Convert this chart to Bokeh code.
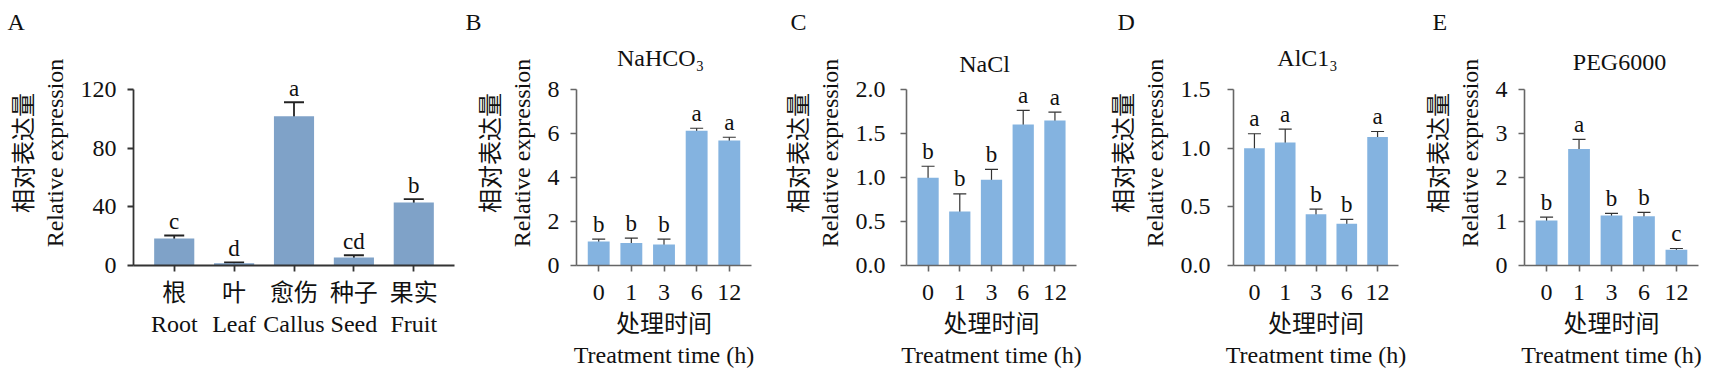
from bokeh.plotting import figure
from bokeh.models import (ColumnDataSource, Range1d, FixedTicker, LinearAxis,
                          Whisker, TeeHead, Label, NumeralTickFormatter)
from bokeh.layouts import row
from bokeh.embed import file_html
from bokeh.resources import INLINE
from bokeh.core.properties import value

# ---------------- data ----------------
tissue_cn = ["根", "叶", "愈伤", "种子", "果实"]
tissue_en = ["Root", "Leaf", "Callus", "Seed", "Fruit"]
tissue_mean = [18.5, 1.5, 102.0, 5.5, 43.0]
tissue_err = [2.0, 0.7, 9.5, 1.5, 2.3]
tissue_sig = ["c", "d", "a", "cd", "b"]
tissue_ticks = [0, 40, 80, 120]

hours = ["0", "1", "3", "6", "12"]

nahco3_mean = [1.09, 1.02, 0.96, 6.13, 5.69]
nahco3_err = [0.11, 0.23, 0.24, 0.12, 0.15]
nahco3_sig = ["b", "b", "b", "a", "a"]
nahco3_ticks = [0, 2, 4, 6, 8]

nacl_mean = [1.0, 0.615, 0.975, 1.605, 1.65]
nacl_err = [0.13, 0.20, 0.12, 0.16, 0.095]
nacl_sig = ["b", "b", "b", "a", "a"]
nacl_ticks = [0, 0.5, 1.0, 1.5, 2.0]

alcl3_mean = [1.0, 1.05, 0.438, 0.356, 1.096]
alcl3_err = [0.125, 0.115, 0.043, 0.038, 0.048]
alcl3_sig = ["a", "a", "b", "b", "a"]
alcl3_ticks = [0, 0.5, 1.0, 1.5]

peg_mean = [1.025, 2.65, 1.14, 1.12, 0.357]
peg_err = [0.075, 0.22, 0.045, 0.09, 0.03]
peg_sig = ["b", "a", "b", "b", "c"]
peg_ticks = [0, 1, 2, 3, 4]

y_label_cn = "相对表达量"
y_label_en = "Relative expression"
x_label_cn = "处理时间"
x_label_en = "Treatment time (h)"

# ---------------- style ----------------
SERIF = "Liberation Serif"
CJK = "Noto Sans CJK SC"
TXT = "#111111"
H = 378
TOP, BOTTOM = 40, 113           # frame from y=40 to y=265
FRAME_H = H - TOP - BOTTOM
TICK_SPAN = 175.7               # px between 0 and the top tick


def build(width, frame_left, frame_right, mean, err, sig, yticks, tick_labels,
          bar_color, axis_color, axis_w, err_color, err_w, cap, sig_off,
          ylab_standoff, letter, letter_offset, fmt=None):
    top = yticks[-1]
    p = figure(width=width, height=H, output_backend="svg", toolbar_location=None,
               x_range=Range1d(-0.68, 4.68),
               y_range=Range1d(0, top * FRAME_H / TICK_SPAN),
               min_border_left=frame_left, min_border_right=width - frame_right,
               min_border_top=TOP, min_border_bottom=BOTTOM)
    p.xgrid.visible = False
    p.ygrid.visible = False
    p.outline_line_color = None

    # panel letter
    p.title.text = letter
    p.title.align = "left"
    p.title.offset = letter_offset
    p.title.standoff = 12
    p.title.text_font = SERIF
    p.title.text_font_size = "24px"
    p.title.text_font_style = "normal"
    p.title.text_color = TXT

    xs = list(range(len(mean)))
    src = ColumnDataSource(dict(
        x=xs, top=mean,
        upper=[m + e for m, e in zip(mean, err)],
        lower=[m - e for m, e in zip(mean, err)],
        sig=sig))
    p.vbar(x="x", top="top", width=0.67, source=src, fill_color=bar_color,
           line_color=None)
    p.add_layout(Whisker(base="x", upper="upper", lower="lower", source=src,
                         line_color=err_color, line_width=err_w,
                         upper_head=TeeHead(size=cap, line_color=err_color, line_width=err_w),
                         lower_head=TeeHead(size=cap, line_color=err_color, line_width=err_w)))
    p.text(x="x", y="upper", text="sig", source=src, text_align="center",
           text_baseline="alphabetic", y_offset=sig_off,
           text_font=value(SERIF), text_font_size="23px", text_color=TXT)

    ya = p.yaxis[0]
    ya.ticker = FixedTicker(ticks=yticks)
    ya.bounds = (0, top)
    if fmt:
        ya.formatter = NumeralTickFormatter(format=fmt)
    xa = p.xaxis[0]
    xa.ticker = FixedTicker(ticks=xs)
    xa.major_label_overrides = {i: t for i, t in zip(xs, tick_labels)}
    for a in (xa, ya):
        a.axis_line_color = axis_color
        a.axis_line_width = axis_w
        a.major_tick_line_color = axis_color
        a.major_tick_line_width = axis_w
        a.major_tick_in = 0
        a.major_tick_out = 6
        a.minor_tick_line_color = None
        a.major_label_text_font = SERIF
        a.major_label_text_font_size = "24px"
        a.major_label_text_color = TXT
        a.axis_label_text_font_style = "normal"
        a.axis_label_text_font_size = "24px"
        a.axis_label_text_color = TXT
    ya.major_label_standoff = ylab_standoff
    xa.major_label_standoff = 13

    # y-axis titles: English on the axis, Chinese on an extra bare axis further out
    ya.axis_label = y_label_en
    ya.axis_label_text_font = SERIF
    ya.axis_label_standoff = 10
    cn = LinearAxis(ticker=FixedTicker(ticks=[]), axis_line_color=None,
                    major_tick_line_color=None, minor_tick_line_color=None,
                    major_tick_out=0, major_tick_in=0, major_label_standoff=0,
                    axis_label=y_label_cn, axis_label_text_font=CJK,
                    axis_label_text_font_size="24px", axis_label_text_font_style="normal",
                    axis_label_text_color=TXT, axis_label_standoff=0)
    p.add_layout(cn, "left")
    return p


def bare_x_axis(**kw):
    base = dict(axis_line_color=None, major_tick_line_color=None,
                minor_tick_line_color=None, major_tick_out=0, major_tick_in=0,
                major_label_standoff=0, major_label_text_font=SERIF,
                major_label_text_font_size="24px", major_label_text_color=TXT,
                axis_label_text_font=SERIF, axis_label_text_font_size="24px",
                axis_label_text_font_style="normal", axis_label_text_color=TXT,
                axis_label_standoff=0)
    base.update(kw)
    return LinearAxis(**base)


# ---------------- panel A ----------------
pa = build(460, 130, 454, tissue_mean, tissue_err, tissue_sig, tissue_ticks,
           tissue_cn, "#7fa2c8", "#333333", 1.8, "#222222", 1.8, 20, -14,
           11, "A", -126)
pa.xaxis[0].major_label_text_font = CJK
pa.xaxis[0].major_label_standoff = 1
pa.add_layout(bare_x_axis(ticker=FixedTicker(ticks=list(range(5))),
                          major_label_overrides={i: t for i, t in enumerate(tissue_en)}),
              "below")

# ---------------- panels B-E ----------------
panels = [
    # width, frame left, frame right, data, fmt, tick-label standoff,
    # letter, letter offset, title, title centre (x, y from frame bottom)
    (315, 116, 291, nahco3_mean, nahco3_err, nahco3_sig, nahco3_ticks, None, 11,
     "B", -111, "NaHCO₃", 84, 207.5),
    (325, 126, 301, nacl_mean, nacl_err, nacl_sig, nacl_ticks, "0.0", 15,
     "C", -116, "NaCl", 78, 202),
    (315, 123, 298, alcl3_mean, alcl3_err, alcl3_sig, alcl3_ticks, "0.0", 17,
     "D", -116, "AlC1₃", 74, 207.5),
    (307, 109, 283, peg_mean, peg_err, peg_sig, peg_ticks, None, 11,
     "E", -92, "PEG6000", 95, 203.5),
]
figs = [pa]
for (w, fx, fr, m, e, s, t, fmt, yst, letter, loff, title, tx, ty) in panels:
    p = build(w, fx, fr, m, e, s, t, hours, "#84b3e0", "#666666", 1.6,
              "#333333", 1.2, 13, -15, yst, letter, loff, fmt)
    p.add_layout(Label(x=tx, y=ty, x_units="screen", y_units="screen", text=title,
                       text_font=SERIF, text_font_size="24px", text_color=TXT,
                       text_align="center", text_baseline="middle"))
    xa = p.xaxis[0]
    xa.axis_label = x_label_cn
    xa.axis_label_text_font = CJK
    xa.axis_label_standoff = 1
    p.add_layout(bare_x_axis(ticker=FixedTicker(ticks=[]), axis_label=x_label_en,
                             axis_label_standoff=0), "below")
    figs.append(p)

layout = row(*figs, spacing=0)
open("out.html", "w").write(file_html(layout, INLINE))
